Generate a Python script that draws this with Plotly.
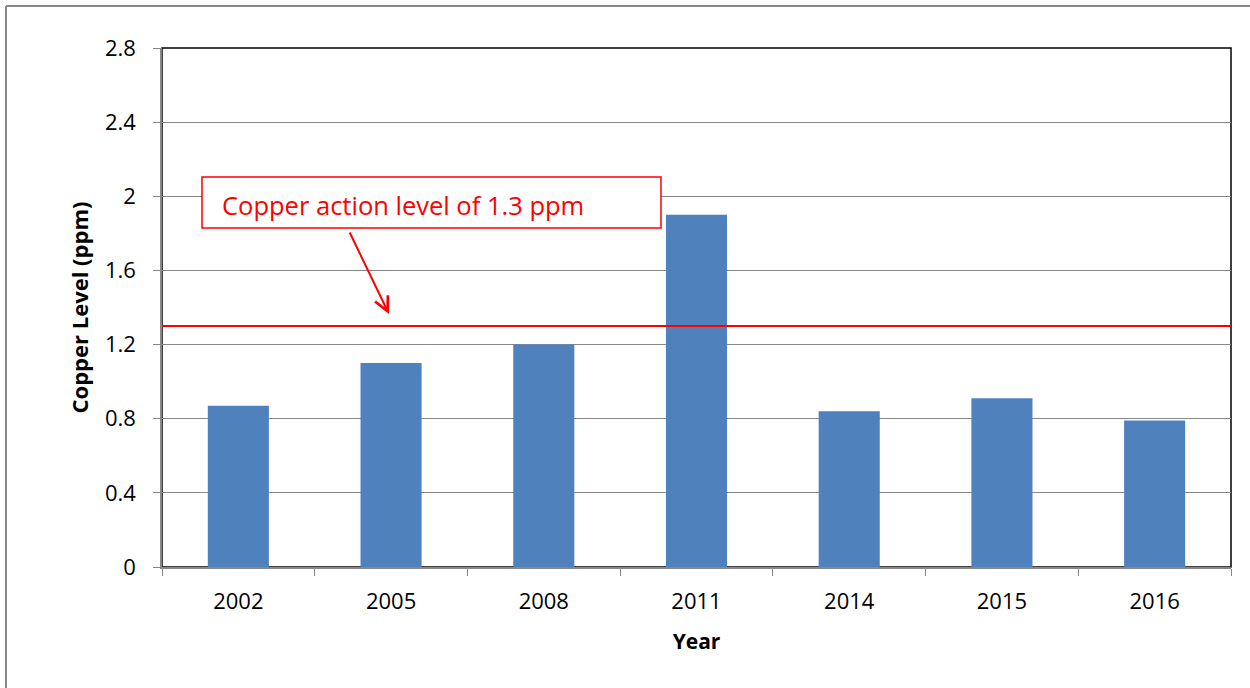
import plotly.graph_objects as go

# Data
years = ["2002", "2005", "2008", "2011", "2014", "2015", "2016"]
copper_ppm = [0.87, 1.10, 1.20, 1.90, 0.84, 0.91, 0.79]
action_level = 1.3
y_ticks = [0, 0.4, 0.8, 1.2, 1.6, 2.0, 2.4, 2.8]
y_tick_text = ["0", "0.4", "0.8", "1.2", "1.6", "2", "2.4", "2.8"]

W, H = 1250, 688
L, R, T, B = 162, 19, 48, 121
PW, PH = W - L - R, H - T - B

FONT = "Open Sans"
GRID = "#888888"


def px(x):
    return (x - L) / PW


def py(y):
    return (H - B - y) / PH


fig = go.Figure()
fig.add_trace(go.Bar(
    x=years, y=copper_ppm,
    marker=dict(color="#4F81BD", line=dict(width=0)),
    hoverinfo="x+y",
))

shapes = [
    # plot-area frame
    dict(type="rect", xref="paper", yref="paper", x0=0, x1=1, y0=0, y1=1,
         line=dict(color="black", width=1.5), layer="below"),
    # action level line
    dict(type="line", xref="paper", yref="y", x0=0, x1=1,
         y0=action_level, y1=action_level,
         line=dict(color="#FF0000", width=2)),
    # callout box
    dict(type="rect", xref="paper", yref="paper",
         x0=px(202), x1=px(661), y0=py(228), y1=py(177),
         line=dict(color="#FF0000", width=1.5), fillcolor="white"),
    # outer chart frame (left and top edges)
    dict(type="line", xref="paper", yref="paper",
         x0=px(6), x1=px(6), y0=py(6), y1=py(H + 5),
         line=dict(color="#888888", width=2)),
    dict(type="line", xref="paper", yref="paper",
         x0=px(6), x1=px(W + 5), y0=py(6), y1=py(6),
         line=dict(color="#888888", width=2)),
]

annotations = [
    dict(text="Copper action level of 1.3 ppm", xref="paper", yref="paper",
         x=px(220), y=py(205), xanchor="left", yanchor="middle",
         showarrow=False, font=dict(family=FONT, size=25.5, color="#FF0000")),
    dict(text="", xref="paper", yref="paper",
         x=px(389), y=py(314), ax=-40, ay=-83,
         showarrow=True, arrowhead=5, arrowsize=1.4, arrowwidth=2,
         arrowcolor="#FF0000"),
]

fig.update_layout(
    width=W, height=H,
    margin=dict(l=L, r=R, t=T, b=B, pad=0),
    paper_bgcolor="white", plot_bgcolor="white",
    showlegend=False, bargap=0.6,
    shapes=shapes, annotations=annotations,
    font=dict(family=FONT, color="black"),
)

fig.update_xaxes(
    type="category",
    showline=True, linecolor=GRID, linewidth=1.5,
    ticks="outside", tickson="boundaries", ticklen=7, tickcolor=GRID,
    ticklabelstandoff=14,
    tickfont=dict(family=FONT, size=22, color="black"),
    title=dict(text="<b>Year</b>", font=dict(family=FONT, size=21), standoff=20),
    showgrid=False,
)
fig.update_yaxes(
    range=[0, 2.8], tickvals=y_ticks, ticktext=y_tick_text,
    showline=True, linecolor=GRID, linewidth=1.5,
    ticks="outside", ticklen=7, tickcolor=GRID,
    ticklabelstandoff=13,
    tickfont=dict(family=FONT, size=22, color="black"),
    showgrid=True, gridcolor=GRID, gridwidth=1,
    zeroline=False,
    title=dict(text="<b>Copper Level (ppm)</b>", font=dict(family=FONT, size=22), standoff=10),
)

fig.write_html("out.html")
